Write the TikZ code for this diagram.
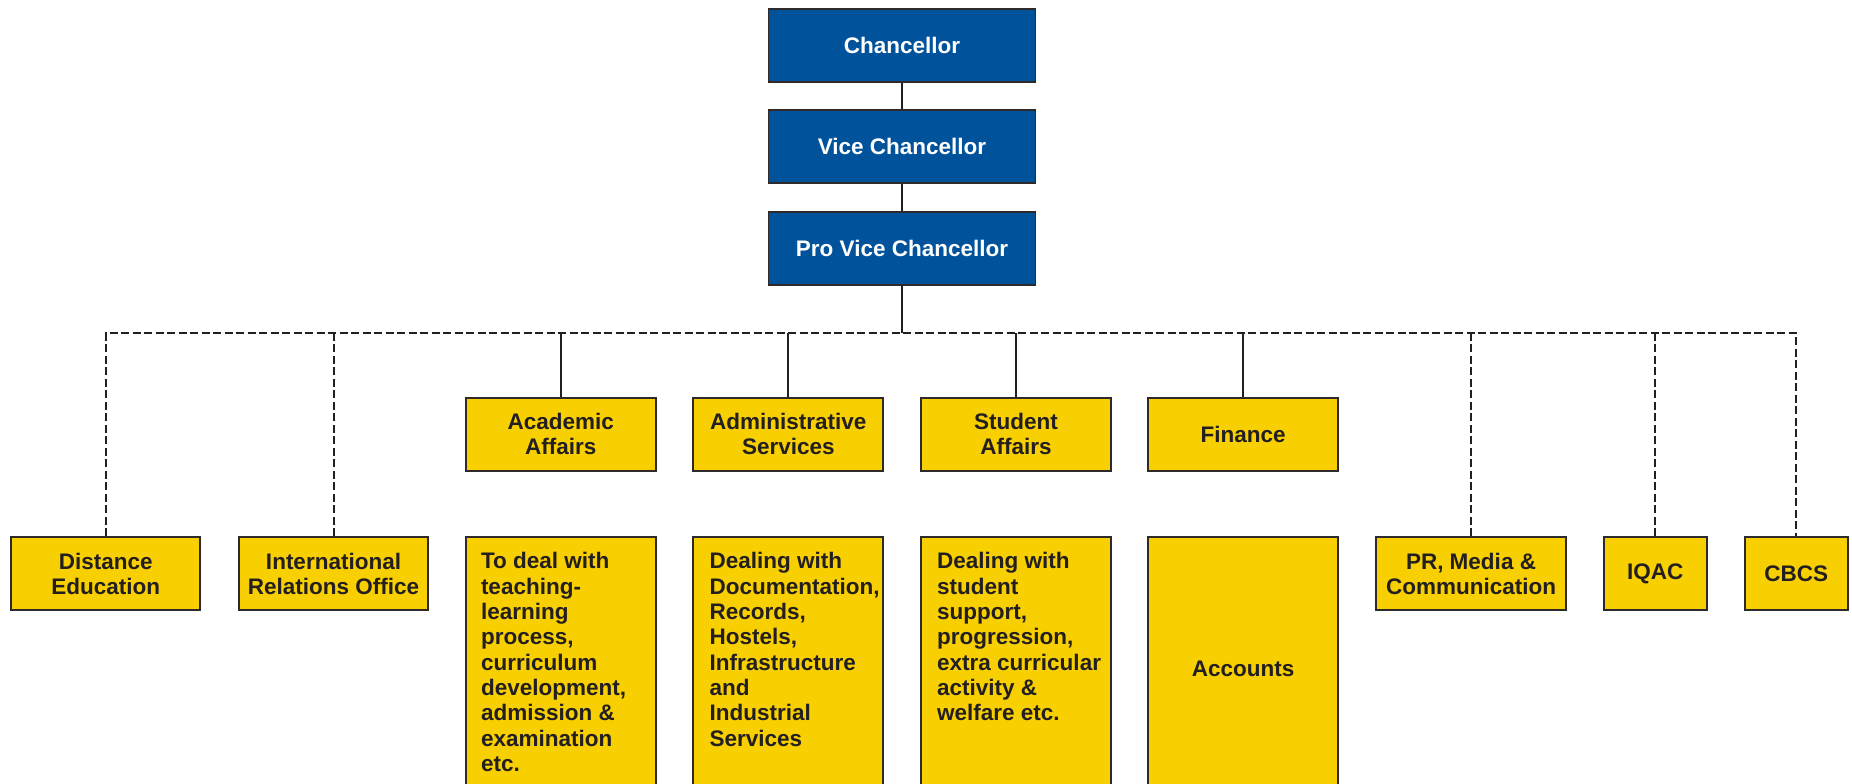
\documentclass[tikz,border=0pt]{standalone}
\usepackage{fontspec}
\setmainfont{Liberation Sans}
\definecolor{uniblue}{HTML}{00539B}
\definecolor{uniyellow}{HTML}{F8CF00}
\definecolor{txt}{HTML}{231F20}
\definecolor{boxline}{HTML}{2E2A2B}
\definecolor{linecol}{HTML}{231F20}
\begin{document}
\begin{tikzpicture}[x=1pt,y=-1pt,
  lbl/.style={font=\bfseries\fontsize{22.5}{25.3}\selectfont},
  box/.style={lbl, draw=boxline, line width=1.8pt, inner sep=0pt, align=center},
  bluebox/.style={box, fill=uniblue, text=white, minimum width=267pt, minimum height=73pt},
  ybox/.style={box, fill=uniyellow, text=txt, minimum height=73pt},
  descbox/.style={box, fill=uniyellow, text=txt, minimum width=190pt, minimum height=263pt},
  desctext/.style={lbl, anchor=north west, align=left, inner sep=0pt, text=txt},
  link/.style={draw=linecol, line width=2pt},
  dashlink/.style={link, dash pattern=on 8pt off 3.5pt}]
\fill[white] (0,0) rectangle (1852,784);
\useasboundingbox (0,0) rectangle (1852,784);
\clip (0,0) rectangle (1852,784);

% top hierarchy
\node[bluebox] (chan) at (902,45.5) {Chancellor};
\node[bluebox] (vc) at (902,146.7) {Vice Chancellor};
\node[bluebox] (pvc) at (902,248.3) {Pro Vice Chancellor};
\coordinate (bus) at (902,333.3);

% main units
\node[ybox, minimum width=190pt] (acad) at (560.7,434.2) {Academic\\Affairs};
\node[ybox, minimum width=190pt] (admin) at (788.3,434.2) {Administrative\\Services};
\node[ybox, minimum width=190pt] (stud) at (1015.9,434.2) {Student\\Affairs};
\node[ybox, minimum width=190pt] (fin) at (1243.2,434.2) {Finance};

% side units
\node[ybox, minimum width=189pt] (dist) at (105.8,573.8) {Distance\\Education};
\node[ybox, minimum width=189pt] (intl) at (333.5,573.8) {International\\Relations Office};
\node[ybox, minimum width=190pt] (pr) at (1471,573.8) {PR, Media \&\\Communication};
\node[ybox, minimum width=103pt] (iqac) at (1655.2,573.8) {IQAC};
\node[ybox, minimum width=103pt] (cbcs) at (1796.3,573.8) {CBCS};

% description boxes
\node[descbox] (acaddesc) at (560.7,668.8) {};
\node[descbox] (admindesc) at (788.3,668.8) {};
\node[descbox] (studdesc) at (1015.9,668.8) {};
\node[descbox] (acc) at (1243.2,668.8) {Accounts};

\node[desctext] (acadtxt) at ([xshift=16pt,yshift=-16pt]acaddesc.north west)
  {To deal with\\teaching-\\learning\\process,\\curriculum\\development,\\admission \&\\examination\\etc.};
\node[desctext] (admintxt) at ([xshift=17pt,yshift=-16pt]admindesc.north west)
  {Dealing with\\Documentation,\\Records,\\Hostels,\\Infrastructure\\and\\Industrial\\Services};
\node[desctext] (studtxt) at ([xshift=17pt,yshift=-16pt]studdesc.north west)
  {Dealing with\\student\\support,\\progression,\\extra curricular\\activity \&\\welfare etc.};

% connectors
\draw[link] (chan.south) -- (vc.north);
\draw[link] (vc.south) -- (pvc.north);
\draw[dashlink] (dist.north) -- (dist.north |- bus) -- (cbcs.north |- bus) -- (cbcs.north);
\draw[dashlink] (intl.north) -- (intl.north |- bus);
\draw[dashlink] (pr.north) -- (pr.north |- bus);
\draw[dashlink] (iqac.north) -- (iqac.north |- bus);
\draw[link] (pvc.south) -- (bus);
\draw[link] (acad.north) -- (acad.north |- bus);
\draw[link] (admin.north) -- (admin.north |- bus);
\draw[link] (stud.north) -- (stud.north |- bus);
\draw[link] (fin.north) -- (fin.north |- bus);
\end{tikzpicture}
\end{document}
